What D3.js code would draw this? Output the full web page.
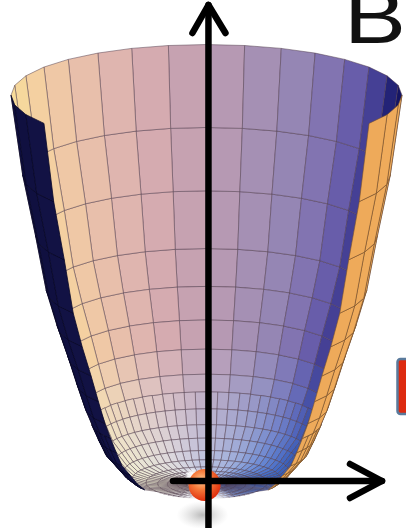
<!DOCTYPE html>
<html>
<head>
<meta charset="utf-8">
<script src="https://cdn.jsdelivr.net/npm/d3@7"></script>
<style>
html, body { margin: 0; padding: 0; background: #fff; overflow: hidden; }
</style>
</head>
<body>
<svg id="chart" width="406" height="528"></svg>
<script>
// rings of the well, rim first: radius as a share of the rim, height as a share of the rim height
const ringRadius = [1.00, 0.94, 0.875, 0.82, 0.765, 0.71, 0.665, 0.625, 0.59, 0.555, 0.52, 0.47, 0.425, 0.38, 0.31, 0.25, 0.20, 0.15, 0.10, 0.05, 0];
const ringHeight = [1.00, 0.795, 0.641, 0.50, 0.41, 0.331, 0.262, 0.203, 0.162, 0.123, 0.087, 0.059, 0.033, 0.015, 0.006, 0.003, 0.0015, 0.0006, 0.0002, 0, 0];
// meridian steps (of 32) each ring runs round the front past the two sides (16 = closed ring)
const ringOpen = [3, 3, 3, 3, 3, 3, 3, 3, 3, 3, 3, 3, 3, 3, 16, 16, 16, 16, 16, 16, 16];
// meridians per full turn in each band
const bandMeridians = [32, 32, 32, 32, 32, 32, 32, 32, 64, 64, 64, 64, 64, 64, 64, 64, 64, 64, 32, 32];

// colour ramps, left side of the well to right side
const insideStops = [0, 0.08, 0.22, 0.36, 0.5, 0.63, 0.75, 0.85, 0.92, 0.97, 1];
const insideColors = ["#f8dc9a", "#f2cca4", "#e4baae", "#d4aab0", "#be9eb2", "#a892b4", "#9284b4", "#7a6cb0", "#5850a4", "#2a2a80", "#121260"];
const outsideStops = [0, 0.2, 0.8, 1];
const outsideColors = ["#0e0e3e", "#1c1c52", "#e8a455", "#f0ac5c"];
const bottomStops = [0, 0.3, 0.5, 0.7, 0.85, 1];
const bottomColors = ["#eef0dc", "#dadfe8", "#bcc8e6", "#9cb2e2", "#6a92dc", "#3a6ccc"];

const ball = { x: -0.01, z: 0.0, r: 16 };

const svg = d3.select("#chart");
const W = 406, H = 528;

const sinE = 0.26, cosE = Math.sqrt(1 - sinE * sinE);
const depthZ = 2.07;

const x = d3.scaleLinear().domain([-1, 1]).range([11, 402]);
const y = d3.scaleLinear().domain([0, 1]).range([485, 290]);

const inside = d3.scaleLinear().domain(insideStops).range(insideColors);
const outside = d3.scaleLinear().domain(outsideStops).range(outsideColors);
const bottom = d3.scaleLinear().domain(bottomStops).range(bottomColors);

function project(r, t, z) {
  const wx = r * Math.cos(t), wy = r * Math.sin(t);
  return {
    X: x(wx),
    Y: y(z * depthZ * cosE + wy * sinE),
    d: wy * cosE - z * depthZ * sinE
  };
}

const quads = [];
for (let i = 0; i < ringRadius.length - 1; i++) {
  const m = bandMeridians[i], f = m / 32;
  const step = 2 * Math.PI / m, half = m / 2;
  const n = ringOpen[i] * f;
  const ks = n >= half ? d3.range(0, m) : d3.range(-n, half + n);
  ks.forEach(k => {
    const t0 = k * step, t1 = (k + 1) * step;
    const p = [
      project(ringRadius[i], t0, ringHeight[i]),
      project(ringRadius[i], t1, ringHeight[i]),
      project(ringRadius[i + 1], t1, ringHeight[i + 1]),
      project(ringRadius[i + 1], t0, ringHeight[i + 1])
    ];
    let area = 0;
    for (let j = 0; j < 4; j++) {
      const a = p[j], b = p[(j + 1) % 4];
      area += a.X * b.Y - b.X * a.Y;
    }
    const tm = (k + 0.5) * step;
    const u = (Math.cos(tm) + 1) / 2;
    const zm = (ringHeight[i] + ringHeight[i + 1]) / 2;
    let fill, line;
    if (area <= 0) {
      const w = 0.9 * Math.pow(Math.max(0, Math.min(1, 1 - zm / 0.3)), 1.2);
      fill = d3.interpolateRgb(inside(u), bottom(u))(w);
      line = "rgba(80,60,76,0.62)";
    } else {
      fill = outside(u);
      line = u < 0.5 ? "#08082a" : "rgba(120,80,40,0.7)";
    }
    quads.push({ p, d: d3.mean(p, q => q.d), fill, line });
  });
}
quads.sort((a, b) => b.d - a.d);

svg.append("g")
  .selectAll("path")
  .data(quads)
  .join("path")
  .attr("d", q => "M" + q.p.map(c => c.X.toFixed(2) + "," + c.Y.toFixed(2)).join("L") + "Z")
  .attr("fill", q => q.fill)
  .attr("stroke", q => q.line)
  .attr("stroke-width", 0.8)
  .attr("stroke-linejoin", "round");

// shadow and glare under the ball
const defs = svg.append("defs");
const glow = defs.append("radialGradient").attr("id", "glow");
glow.append("stop").attr("offset", "0%").attr("stop-color", "#fff").attr("stop-opacity", 1);
glow.append("stop").attr("offset", "60%").attr("stop-color", "#fff").attr("stop-opacity", 0.85);
glow.append("stop").attr("offset", "100%").attr("stop-color", "#fff").attr("stop-opacity", 0);
const shade = defs.append("radialGradient").attr("id", "shade");
shade.append("stop").attr("offset", "0%").attr("stop-color", "#9a9a9a").attr("stop-opacity", 0.7);
shade.append("stop").attr("offset", "100%").attr("stop-color", "#c8c8c8").attr("stop-opacity", 0);
const ballGrad = defs.append("radialGradient").attr("id", "ball")
  .attr("cx", "40%").attr("cy", "35%").attr("r", "65%");
ballGrad.append("stop").attr("offset", "0%").attr("stop-color", "#ffc890");
ballGrad.append("stop").attr("offset", "45%").attr("stop-color", "#f67a3a");
ballGrad.append("stop").attr("offset", "100%").attr("stop-color", "#e0300e");

const bx = x(ball.x), by = y(ball.z * depthZ * cosE);
svg.append("ellipse").attr("cx", bx + 2).attr("cy", by + 24).attr("rx", 34).attr("ry", 22).attr("fill", "url(#glow)");
svg.append("ellipse").attr("cx", bx - 2).attr("cy", by + 30).attr("rx", 26).attr("ry", 14).attr("fill", "url(#shade)");
svg.append("circle").attr("cx", bx - 12).attr("cy", by - 9).attr("r", 8).attr("fill", "url(#glow)");
svg.append("circle").attr("cx", bx).attr("cy", by).attr("r", ball.r).attr("fill", "url(#ball)");

// axes
const arrow = d3.line();
const ax = x(0.01);
const axes = svg.append("g")
  .attr("fill", "none").attr("stroke", "#000").attr("stroke-width", 6.5)
  .attr("stroke-linecap", "round").attr("stroke-linejoin", "round");
axes.append("path").attr("d", arrow([[ax, H + 5], [ax, 5]]));
axes.append("path").attr("d", arrow([[ax - 16, 33], [ax, 5], [ax + 17, 33]]));
const hy = by - 4;
axes.append("path").attr("d", arrow([[173, hy], [382, hy]]));
axes.append("path").attr("d", arrow([[350, hy - 17], [382, hy], [350, hy + 17]]));

svg.append("text")
  .attr("x", 344).attr("y", 43)
  .attr("font-family", "Liberation Sans, Arial, sans-serif")
  .attr("font-size", 76)
  .attr("textLength", 62).attr("lengthAdjust", "spacingAndGlyphs")
  .attr("fill", "#111")
  .text("B");

svg.append("rect")
  .attr("x", 397.5).attr("y", 359).attr("width", 20).attr("height", 55).attr("rx", 3)
  .attr("fill", "#dd2a10").attr("stroke", "#5a7a9c").attr("stroke-width", 2.5);
</script>
</body>
</html>
